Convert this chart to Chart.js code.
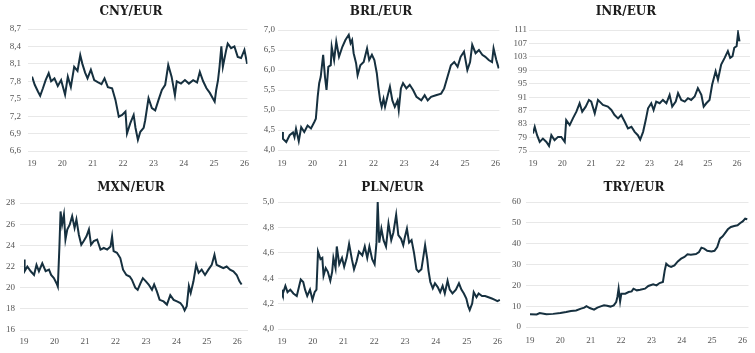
<!DOCTYPE html>
<html>
<head>
<meta charset="utf-8">
<script src="https://cdn.jsdelivr.net/npm/chart.js@4"></script>
<style>
  html, body { margin: 0; padding: 0; background: #fff; overflow: hidden; }
  #wrap { position: relative; width: 755px; height: 353px; }
  #wrap canvas { position: absolute; }
</style>
</head>
<body>
<div id="wrap"></div>
<script>
// x axis: years as 2-digit decimals (19 = 2019)
const yearTicks = [19, 20, 21, 22, 23, 24, 25, 26];

// CNY/EUR
const cnyYears = [19.00, 19.09, 19.20, 19.27, 19.36, 19.45, 19.55, 19.63, 19.74, 19.85, 19.96, 20.09, 20.18, 20.28, 20.39, 20.50, 20.59, 20.66, 20.75, 20.83, 20.94, 21.05, 21.18, 21.29, 21.39, 21.50, 21.64, 21.75, 21.86, 21.97, 22.08, 22.13, 22.24, 22.35, 22.41, 22.49, 22.57, 22.68, 22.73, 22.84, 22.95, 23.06, 23.17, 23.28, 23.39, 23.49, 23.60, 23.71, 23.77, 23.91, 24.04, 24.17, 24.31, 24.44, 24.53, 24.64, 24.75, 24.86, 25.02, 25.07, 25.13, 25.18, 25.24, 25.29, 25.40, 25.45, 25.56, 25.67, 25.78, 25.89, 26.00, 26.09];
const cnyRates = [7.88, 7.74, 7.62, 7.55, 7.68, 7.82, 7.94, 7.80, 7.85, 7.72, 7.82, 7.57, 7.88, 7.70, 8.05, 7.98, 8.25, 8.10, 7.95, 7.85, 8.00, 7.82, 7.78, 7.75, 7.85, 7.70, 7.68, 7.48, 7.19, 7.22, 7.28, 6.90, 7.08, 7.22, 7.00, 6.79, 6.93, 7.00, 7.13, 7.51, 7.34, 7.30, 7.48, 7.65, 7.74, 8.08, 7.88, 7.56, 7.80, 7.76, 7.82, 7.76, 7.82, 7.78, 7.96, 7.80, 7.68, 7.60, 7.45, 7.65, 7.82, 8.05, 8.40, 8.05, 8.34, 8.45, 8.37, 8.40, 8.22, 8.20, 8.34, 8.10];
const cnyTicks = [6.6, 6.9, 7.2, 7.5, 7.8, 8.1, 8.4, 8.7];

// BRL/EUR
const brlYears = [19.00, 19.03, 19.14, 19.25, 19.36, 19.41, 19.46, 19.55, 19.63, 19.73, 19.84, 19.95, 20.06, 20.11, 20.17, 20.22, 20.27, 20.35, 20.41, 20.46, 20.52, 20.60, 20.63, 20.71, 20.78, 20.87, 20.98, 21.08, 21.19, 21.25, 21.30, 21.35, 21.43, 21.48, 21.57, 21.68, 21.79, 21.86, 21.95, 22.03, 22.11, 22.16, 22.22, 22.27, 22.33, 22.38, 22.47, 22.54, 22.62, 22.70, 22.79, 22.83, 22.90, 22.97, 23.08, 23.19, 23.30, 23.41, 23.57, 23.68, 23.78, 23.89, 24.05, 24.22, 24.32, 24.43, 24.54, 24.65, 24.76, 24.86, 24.97, 25.08, 25.17, 25.24, 25.35, 25.46, 25.57, 25.67, 25.78, 25.89, 25.94, 26.03, 26.11];
const brlRates = [4.45, 4.28, 4.20, 4.37, 4.44, 4.32, 4.53, 4.22, 4.57, 4.45, 4.61, 4.54, 4.70, 4.78, 5.33, 5.67, 5.83, 6.38, 5.83, 5.50, 6.08, 6.12, 6.58, 6.25, 6.71, 6.33, 6.58, 6.75, 6.88, 6.67, 6.75, 6.42, 6.17, 5.87, 6.12, 6.20, 6.54, 6.25, 6.38, 6.25, 5.92, 5.58, 5.24, 5.08, 5.28, 5.08, 5.37, 5.58, 5.24, 5.08, 5.24, 5.00, 5.54, 5.67, 5.54, 5.63, 5.50, 5.33, 5.24, 5.37, 5.24, 5.33, 5.37, 5.41, 5.54, 5.83, 6.12, 6.20, 6.08, 6.33, 6.46, 6.00, 6.20, 6.63, 6.42, 6.50, 6.38, 6.33, 6.25, 6.20, 6.54, 6.25, 6.04];
const brlTicks = [4.0, 4.5, 5.0, 5.5, 6.0, 6.5, 7.0];

// INR/EUR
const inrYears = [19.00, 19.06, 19.14, 19.23, 19.34, 19.46, 19.55, 19.63, 19.74, 19.86, 19.97, 20.09, 20.14, 20.26, 20.37, 20.49, 20.60, 20.69, 20.81, 20.92, 21.00, 21.12, 21.23, 21.40, 21.57, 21.69, 21.80, 21.92, 22.03, 22.15, 22.26, 22.38, 22.49, 22.60, 22.68, 22.78, 22.87, 22.95, 23.06, 23.14, 23.23, 23.35, 23.46, 23.58, 23.69, 23.78, 23.90, 23.98, 24.09, 24.21, 24.32, 24.43, 24.55, 24.66, 24.78, 24.86, 24.95, 25.06, 25.15, 25.27, 25.35, 25.46, 25.58, 25.69, 25.77, 25.85, 25.91, 25.99, 26.04, 26.09];
const inrRates = [80.2, 82.2, 79.7, 77.7, 78.7, 77.7, 76.5, 79.7, 78.2, 79.2, 79.2, 77.7, 84.2, 82.7, 84.7, 86.7, 89.2, 86.7, 88.2, 90.2, 89.7, 86.2, 90.2, 88.7, 88.2, 87.2, 85.7, 84.7, 85.7, 83.7, 81.7, 82.2, 80.7, 79.7, 78.4, 80.7, 84.2, 87.7, 89.2, 87.2, 89.7, 89.2, 90.2, 89.2, 91.7, 88.2, 89.7, 92.2, 90.2, 89.7, 90.7, 90.2, 91.2, 93.7, 91.7, 88.2, 89.2, 90.2, 94.7, 98.7, 96.2, 100.7, 102.7, 104.7, 102.7, 103.2, 105.7, 106.2, 110.1, 107.6];
const inrTicks = [75, 79, 83, 87, 91, 95, 99, 103, 107, 111];

// MXN/EUR
const mxnYears = [19.00, 19.02, 19.11, 19.22, 19.33, 19.41, 19.49, 19.60, 19.71, 19.82, 19.89, 19.98, 20.07, 20.11, 20.16, 20.20, 20.25, 20.31, 20.36, 20.42, 20.50, 20.58, 20.66, 20.72, 20.80, 20.88, 20.96, 21.05, 21.13, 21.20, 21.29, 21.40, 21.51, 21.62, 21.73, 21.84, 21.89, 21.94, 22.05, 22.16, 22.25, 22.36, 22.47, 22.54, 22.65, 22.73, 22.82, 22.90, 23.00, 23.09, 23.20, 23.27, 23.36, 23.45, 23.58, 23.69, 23.80, 23.91, 24.02, 24.13, 24.21, 24.27, 24.34, 24.41, 24.47, 24.56, 24.65, 24.73, 24.83, 24.94, 25.05, 25.16, 25.25, 25.32, 25.43, 25.54, 25.65, 25.76, 25.87, 25.98, 26.07, 26.14];
const mxnRates = [22.65, 21.55, 22.00, 21.55, 21.20, 22.15, 21.55, 22.30, 21.55, 21.70, 21.20, 20.90, 20.40, 20.10, 23.75, 27.20, 25.95, 26.90, 24.55, 25.50, 25.95, 26.75, 25.65, 26.45, 25.00, 24.05, 24.40, 24.85, 25.50, 24.05, 24.40, 24.55, 23.60, 23.75, 23.60, 23.90, 24.85, 23.45, 23.30, 22.80, 21.70, 21.20, 21.05, 20.75, 20.00, 19.80, 20.40, 20.90, 20.60, 20.30, 19.80, 20.30, 19.65, 18.85, 18.70, 18.40, 19.30, 18.85, 18.70, 18.55, 18.25, 17.85, 18.25, 20.15, 19.50, 20.60, 22.15, 21.40, 21.70, 21.20, 21.70, 22.15, 23.10, 22.15, 22.00, 21.85, 22.00, 21.70, 21.55, 21.20, 20.60, 20.30];
const mxnTicks = [16, 18, 20, 22, 24, 26, 28];

// PLN/EUR
const plnYears = [19.00, 19.03, 19.11, 19.18, 19.27, 19.37, 19.48, 19.56, 19.61, 19.69, 19.75, 19.82, 19.91, 19.99, 20.06, 20.12, 20.17, 20.25, 20.31, 20.35, 20.42, 20.49, 20.57, 20.63, 20.67, 20.74, 20.78, 20.86, 20.95, 21.02, 21.10, 21.18, 21.27, 21.34, 21.42, 21.50, 21.61, 21.69, 21.77, 21.84, 21.93, 22.01, 22.07, 22.11, 22.16, 22.23, 22.30, 22.38, 22.46, 22.55, 22.62, 22.71, 22.78, 22.87, 22.94, 22.99, 23.06, 23.13, 23.21, 23.29, 23.37, 23.44, 23.53, 23.60, 23.65, 23.72, 23.76, 23.82, 23.90, 23.97, 24.06, 24.14, 24.22, 24.29, 24.38, 24.45, 24.54, 24.65, 24.75, 24.83, 24.91, 24.99, 25.05, 25.10, 25.18, 25.23, 25.32, 25.39, 25.50, 25.60, 25.71, 25.82, 25.92, 26.00, 26.08];
const plnRates = [4.31, 4.28, 4.34, 4.29, 4.31, 4.28, 4.26, 4.34, 4.39, 4.37, 4.31, 4.26, 4.31, 4.23, 4.29, 4.31, 4.61, 4.55, 4.56, 4.42, 4.48, 4.45, 4.38, 4.45, 4.56, 4.48, 4.65, 4.51, 4.56, 4.49, 4.56, 4.67, 4.55, 4.47, 4.53, 4.61, 4.58, 4.65, 4.56, 4.65, 4.55, 4.51, 4.68, 5.00, 4.68, 4.79, 4.70, 4.65, 4.83, 4.70, 4.76, 4.90, 4.74, 4.71, 4.66, 4.72, 4.79, 4.68, 4.70, 4.60, 4.47, 4.45, 4.47, 4.58, 4.66, 4.55, 4.46, 4.37, 4.32, 4.36, 4.33, 4.29, 4.34, 4.28, 4.38, 4.31, 4.28, 4.31, 4.36, 4.31, 4.28, 4.24, 4.18, 4.15, 4.20, 4.29, 4.25, 4.28, 4.26, 4.26, 4.25, 4.24, 4.23, 4.22, 4.23];
const plnTicks = [4.0, 4.2, 4.4, 4.6, 4.8, 5.0];

// TRY/EUR
const tryYears = [19.00, 19.22, 19.32, 19.54, 19.76, 20.00, 20.19, 20.35, 20.52, 20.68, 20.79, 20.86, 20.97, 21.11, 21.22, 21.33, 21.44, 21.54, 21.65, 21.76, 21.84, 21.88, 21.92, 21.97, 22.01, 22.14, 22.25, 22.35, 22.41, 22.52, 22.63, 22.79, 22.90, 23.06, 23.17, 23.27, 23.38, 23.44, 23.49, 23.57, 23.65, 23.76, 23.87, 23.98, 24.09, 24.19, 24.30, 24.47, 24.57, 24.65, 24.74, 24.84, 24.98, 25.08, 25.17, 25.26, 25.35, 25.44, 25.52, 25.62, 25.73, 25.84, 25.93, 26.01, 26.09, 26.16];
const tryRates = [6.1, 6.0, 6.7, 6.1, 6.3, 6.7, 7.2, 7.7, 7.9, 8.8, 9.3, 10.0, 9.1, 8.3, 9.3, 9.9, 10.4, 10.2, 9.8, 10.4, 12.0, 14.4, 18.4, 12.3, 16.0, 16.0, 16.8, 17.1, 18.4, 17.6, 17.9, 18.4, 19.7, 20.5, 20.0, 21.1, 21.6, 27.2, 30.4, 29.3, 28.8, 29.6, 31.5, 32.8, 33.6, 34.9, 34.7, 35.0, 36.0, 38.1, 37.6, 36.6, 36.3, 36.6, 38.4, 42.4, 43.5, 45.3, 46.9, 48.0, 48.5, 48.8, 49.9, 50.7, 52.0, 51.7];
const tryTicks = [0, 10, 20, 30, 40, 50, 60];

const lineColor = '#16303f';
const gridColor = '#e8e8e8';

// one small chart per currency, placed where it sits in the 3x2 grid
// (left/top: canvas position, yWidth: room for tick labels, padTop: top of the plot)
const panels = [
  { title: 'CNY/EUR', years: cnyYears, rates: cnyRates, ticks: cnyTicks, dec: 1, xMax: 26.1,
    left: 0, top: 0, width: 256, height: 171, padR: 6, yWidth: 32, yPad: 7, xPad: 7, padTop: 29, titleX: 131, titleY: 12 },
  { title: 'BRL/EUR', years: brlYears, rates: brlRates, ticks: brlTicks, dec: 1, xMax: 26.13,
    left: 255, top: 0, width: 253, height: 170, padR: 6, yWidth: 27, yPad: 3, xPad: 8, padTop: 30, titleX: 126, titleY: 12 },
  { title: 'INR/EUR', years: inrYears, rates: inrRates, ticks: inrTicks, dec: 0, xMax: 26.45,
    left: 500, top: 0, width: 255, height: 171, padR: 5, yWidth: 33, yPad: 2, xPad: 7, padTop: 30, titleX: 126, titleY: 12 },
  { title: 'MXN/EUR', years: mxnYears, rates: mxnRates, ticks: mxnTicks, dec: 0, xMax: 26.35,
    left: 0, top: 175, width: 254, height: 175, padR: 6, yWidth: 24, yPad: 5, xPad: 6, padTop: 28, titleX: 131, titleY: 12.5 },
  { title: 'PLN/EUR', years: plnYears, rates: plnRates, ticks: plnTicks, dec: 1, xMax: 26.1,
    left: 255, top: 175, width: 254, height: 174, padR: 6, yWidth: 27, yPad: 4, xPad: 7, padTop: 27, titleX: 137.5, titleY: 12.5 },
  { title: 'TRY/EUR', years: tryYears, rates: tryRates, ticks: tryTicks, dec: 0, xMax: 26.2,
    left: 500, top: 175, width: 255, height: 172, padR: 3, yWidth: 30, yPad: 5, xPad: 8, padTop: 27, titleX: 134, titleY: 12.5 }
];

const tickFont = { family: '"Liberation Serif", "DejaVu Serif", serif', size: 9 };

// titles are centred on the whole panel, not on the plot, so draw them here
const panelTitle = {
  id: 'panelTitle',
  afterDraw(chart, args, opts) {
    const ctx = chart.ctx;
    ctx.save();
    ctx.font = 'bold 12px "DejaVu Serif", serif';
    ctx.fillStyle = '#1b1b1b';
    ctx.textAlign = 'center';
    ctx.textBaseline = 'middle';
    ctx.fillText(opts.text, opts.x, opts.y);
    ctx.restore();
  }
};

panels.forEach(p => {
  const canvas = document.createElement('canvas');
  canvas.width = p.width;
  canvas.height = p.height;
  canvas.style.left = p.left + 'px';
  canvas.style.top = p.top + 'px';
  canvas.style.width = p.width + 'px';
  canvas.style.height = p.height + 'px';
  document.getElementById('wrap').appendChild(canvas);

  new Chart(canvas.getContext('2d'), {
    type: 'line',
    data: {
      datasets: [{
        data: p.years.map((y, i) => ({ x: y, y: p.rates[i] })),
        borderColor: lineColor,
        borderWidth: 2,
        pointRadius: 0,
        tension: 0
      }]
    },
    plugins: [panelTitle],
    options: {
      responsive: false,
      animation: false,
      devicePixelRatio: 1,
      layout: { padding: { left: 0, right: p.padR, top: p.padTop, bottom: 0 } },
      plugins: {
        legend: { display: false },
        tooltip: { enabled: false },
        title: { display: false },
        panelTitle: { text: p.title, x: p.titleX, y: p.titleY }
      },
      scales: {
        x: {
          type: 'linear',
          min: 19,
          max: p.xMax,
          afterBuildTicks: s => { s.ticks = yearTicks.map(v => ({ value: v })); },
          afterFit: s => { s.height = 20; },
          grid: { display: false, drawTicks: false },
          border: { display: false },
          ticks: { font: tickFont, color: '#555', padding: p.xPad, maxRotation: 0, autoSkip: false,
            callback: v => String(v) }
        },
        y: {
          min: p.ticks[0],
          max: p.ticks[p.ticks.length - 1],
          afterBuildTicks: s => { s.ticks = p.ticks.map(v => ({ value: v })); },
          afterFit: s => { s.width = p.yWidth; },
          grid: { color: gridColor, lineWidth: 1, drawTicks: true, tickLength: 4 },
          border: { display: false },
          ticks: { font: tickFont, color: '#555', padding: p.yPad, autoSkip: false,
            callback: v => v.toFixed(p.dec).replace('.', ',') }
        }
      }
    }
  });
});
</script>
</body>
</html>
